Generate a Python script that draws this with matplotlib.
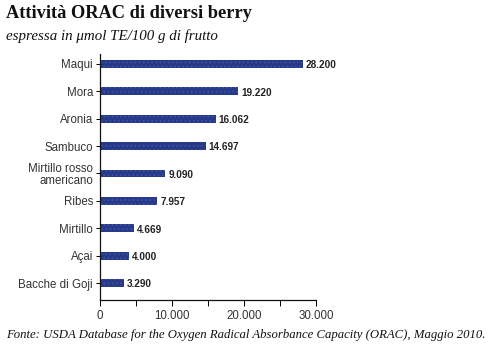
import matplotlib.pyplot as plt

berries = ["Maqui", "Mora", "Aronia", "Sambuco", "Mirtillo rosso\namericano",
           "Ribes", "Mirtillo", "Açai", "Bacche di Goji"]
orac = [28200, 19220, 16062, 14697, 9090, 7957, 4669, 4000, 3290]
value_labels = ["28.200", "19.220", "16.062", "14.697", "9.090",
                "7.957", "4.669", "4.000", "3.290"]
xticks = [0, 5000, 10000, 15000, 20000, 25000, 30000]
xticklabels = ["0", "", "10.000", "", "20.000", "", "30.000"]

plt.rcParams['hatch.color'] = '#4a5cb0'
plt.rcParams['hatch.linewidth'] = 0.4

fig = plt.figure(figsize=(5.01, 3.51), dpi=100)
ax = fig.add_axes([0.1996, 0.1453, 0.431, 0.701])

ypos = list(range(len(berries)))
ax.barh(ypos, orac, height=0.29, color='#273a8a', hatch='....', linewidth=0)
for y, v, lab in zip(ypos, orac, value_labels):
    ax.text(v + 400, y + 0.05, lab, va='center', ha='left', fontsize=7.2,
            fontweight='bold', color='#222222', family='Liberation Sans')

ax.set_xlim(0, 30000)
ax.set_ylim(8.62, -0.365)
ax.set_yticks(ypos)
ax.set_yticklabels(berries, family='Liberation Sans', fontsize=8.3, color='#333333',
                   linespacing=1.0)
ax.set_xticks(xticks)
ax.set_xticklabels(xticklabels, family='Liberation Sans', fontsize=8.3, color='#333333')
ax.tick_params(axis='y', length=3, width=0.7, pad=2)
ax.tick_params(axis='x', length=4, width=0.7, pad=3)
for s in ['top', 'right']:
    ax.spines[s].set_visible(False)
ax.spines['left'].set_linewidth(0.9)
ax.spines['bottom'].set_linewidth(0.9)
for s in ['left', 'bottom']:
    ax.spines[s].set_color('#111111')

fig.text(0.012, 0.962, "Attività ORAC di diversi berry", family='Liberation Serif',
         fontsize=13.2, fontweight='bold', va='center', color='#111111')
fig.text(0.012, 0.898, "espressa in μmol TE/100 g di frutto", family='Liberation Serif',
         fontsize=10.8, style='italic', va='center', color='#111111')
fig.text(0.012, 0.046, "Fonte: USDA Database for the Oxygen Radical Absorbance Capacity (ORAC), Maggio 2010.",
         family='Liberation Serif', fontsize=9.2, style='italic', va='center', color='#111111')

fig.savefig('out.png', dpi=100)
